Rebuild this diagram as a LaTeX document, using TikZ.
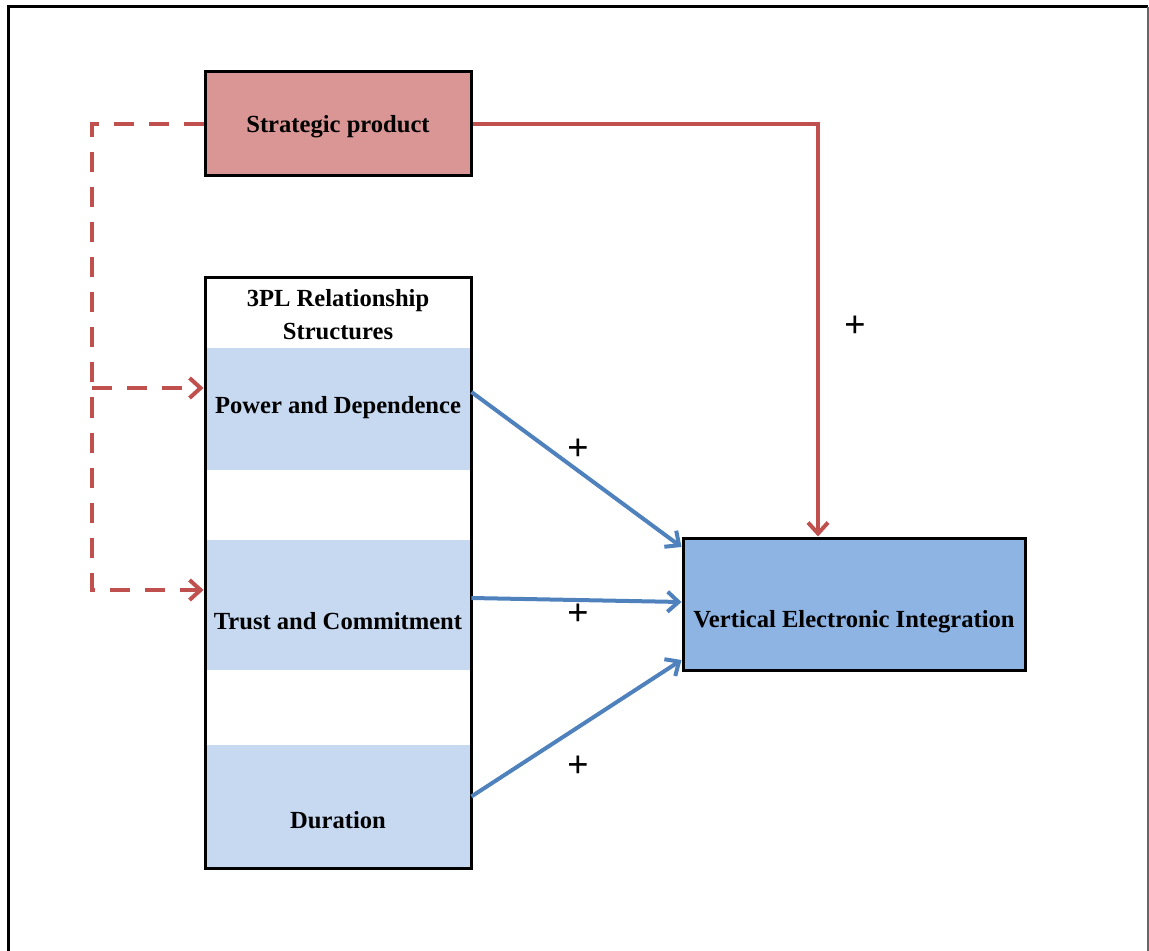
\documentclass[tikz,border=0pt]{standalone}
\usepackage{fontspec}
\setmainfont{Liberation Serif}
\usetikzlibrary{arrows.meta,positioning}
\definecolor{spred}{HTML}{D99694}
\definecolor{bandblue}{HTML}{C6D9F1}
\definecolor{veiblue}{HTML}{8EB4E3}
\definecolor{linered}{HTML}{C0504D}
\definecolor{lineblue}{HTML}{4F81BD}
\tikzstyle{box}=[rectangle,draw=black,line width=1.5pt,inner sep=0pt]
\tikzstyle{band}=[rectangle,fill=bandblue,minimum width=133pt,inner sep=0pt]
\tikzstyle{lbl}=[font=\bfseries\fontsize{12.3}{16.5}\selectfont,align=center,inner sep=0pt]
\tikzstyle{redline}=[draw=linered,line width=2pt]
\tikzstyle{blueline}=[draw=lineblue,line width=2pt]
\tikzstyle{dline}=[redline,dash pattern=on 10pt off 7.5pt]
\tikzstyle{plus}=[font=\bfseries\fontsize{19}{19}\selectfont,inner sep=0pt]
\tikzstyle{tip}=[-{Straight Barb[length=5.5pt,width=10pt]}]

\begin{document}
\begin{tikzpicture}[x=0.5pt,y=-0.5pt]
            \useasboundingbox (0,0) rectangle (1149,951);

            % outer frame
            \draw[line width=1.5pt] (8,951) -- (8,7) -- (1148,7);
            \draw[black!60,line width=1pt] (1148,7) -- (1148,951);

            % Strategic product
            \node[box,fill=spred,minimum width=133pt,minimum height=52pt] (sp) at (338,124) {};
            \node[lbl] (spt) at (338,127) {Strategic product};

            % 3PL PART
            \node[band,minimum height=61pt] (pdb) at (338,409) {};
            \node[band,minimum height=65pt] (tcb) at (338,605) {};
            \node[band,minimum height=61.5pt] (dub) at (338,806.5) {};
            \node[box,minimum width=133pt,minimum height=295pt] (rs) at (338,573) {};

            \node[lbl] (hd) at (338,315) {3PL Relationship\\Structures};
            \node[lbl] (pd) at (338,408) {Power and Dependence};
            \node[lbl] (tc) at (338,621) {Trust and Commitment};
            \node[lbl] (du) at (338,820) {Duration};

            % VEI PART
            \node[box,fill=veiblue,minimum width=171pt,minimum height=66pt] (vei) at (854,604) {};
            \node[lbl] (veit) at (854,622) {Vertical Electronic Integration};

            % red connections
            \draw[redline,tip] (sp.east) -| ([xshift=-18pt]vei.north);
            \node[plus] (p0) at (855,327) {+};

            \coordinate (lft) at (92,590);
            \coordinate (pin) at ([yshift=92.5pt]rs.west);
            \draw[dline,tip] (sp.west) -| (lft) -- ([yshift=-8.5pt]rs.west);
            \draw[dline,tip] (lft |- pin) -- (pin);

            % blue connections
            \draw[blueline,tip] ([yshift=8.5pt]pdb.east) -- ([yshift=28.5pt]vei.west);
            \draw[blueline,tip] ([yshift=3.5pt]tcb.east) -- ([yshift=1pt]vei.west);
            \draw[blueline,tip] ([yshift=5pt]dub.east) -- ([yshift=-28pt]vei.west);

            \node[plus] (p1) at (578,450) {+};
            \node[plus] (p2) at (578,615) {+};
            \node[plus] (p3) at (578,767) {+};

\end{tikzpicture}
\end{document}
